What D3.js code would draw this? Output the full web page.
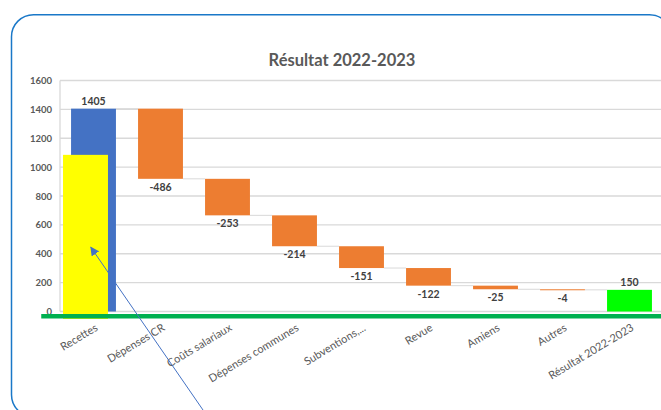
<!DOCTYPE html>
<html>
<head>
<meta charset="utf-8">
<script src="https://cdn.jsdelivr.net/npm/d3@7"></script>
<style>
  html, body { margin: 0; padding: 0; background: #fff; }
  svg { display: block; font-family: Lato, "Open Sans", sans-serif; }
</style>
</head>
<body>
<script>
// Waterfall data
const categories = ["Recettes", "Dépenses CR", "Coûts salariaux", "Dépenses communes",
  "Subventions,...", "Revue", "Amiens", "Autres", "Résultat 2022-2023"];
const values = [1405, -486, -253, -214, -151, -122, -25, -4, 150];
const isTotal = [true, false, false, false, false, false, false, false, true];
const yTicks = [0, 200, 400, 600, 800, 1000, 1200, 1400, 1600];

// annotations drawn on top of the chart (category index, value)
const yellowBox = { from: -0.455, to: 0.216, low: -52, high: 1085 };
const greenLine = { from: -0.78, to: 8.6, level: -33 };
const arrowTail = [1.686, -717];
const arrowTip = [-0.04, 445];

const width = 661, height = 410;

const svg = d3.select("body").append("svg")
  .attr("width", width)
  .attr("height", height);

// chart frame
svg.append("rect")
  .attr("x", 11.5).attr("y", 14.7)
  .attr("width", 660).attr("height", 402)
  .attr("rx", 22).attr("ry", 22)
  .attr("fill", "#fff")
  .attr("stroke", "#1a78c8")
  .attr("stroke-width", 1.5);

svg.append("text")
  .attr("x", 342).attr("y", 66)
  .attr("text-anchor", "middle")
  .attr("fill", "#595959")
  .attr("font-size", 16.5)
  .attr("font-weight", "bold")
  .text("Résultat 2022-2023");

const x = d3.scaleBand()
  .domain(categories)
  .range([60, 663])
  .paddingInner(0.33)
  .paddingOuter(0.165);

const y = d3.scaleLinear()
  .domain([0, 1600])
  .range([311.5, 80.5]);

// index -> pixel, for annotations placed between categories
const xi = d3.scaleLinear()
  .domain([0, 1])
  .range([x(categories[0]) + x.bandwidth() / 2, x(categories[1]) + x.bandwidth() / 2]);

// running totals
let running = 0;
const steps = categories.map(function (c, i) {
  let start, end;
  if (isTotal[i]) {
    start = 0; end = values[i];
    running = values[i];
  } else {
    start = running; end = running + values[i];
    running = end;
  }
  return { cat: c, value: values[i], start: start, end: end, total: isTotal[i], i: i };
});

// gridlines
svg.append("g")
  .selectAll("line")
  .data(yTicks)
  .join("line")
  .attr("x1", 60).attr("x2", 661)
  .attr("y1", d => y(d)).attr("y2", d => y(d))
  .attr("stroke", "#d9d9d9")
  .attr("stroke-width", 1.3);

svg.append("line")
  .attr("x1", 60).attr("x2", 60)
  .attr("y1", y(1600)).attr("y2", y(0))
  .attr("stroke", "#d9d9d9")
  .attr("stroke-width", 1.3);

// y axis labels
const yAxis = d3.axisLeft(y).tickValues(yTicks).tickFormat(d3.format("d"))
  .tickSize(0).tickPadding(0);
svg.append("g")
  .attr("transform", "translate(52,0)")
  .call(yAxis)
  .call(g => g.select(".domain").remove())
  .selectAll("text")
  .attr("fill", "#595959")
  .attr("font-family", "Lato, sans-serif")
  .attr("font-size", 9.5)
  .attr("font-weight", "bold");

// connectors
svg.append("g")
  .selectAll("line")
  .data(steps.slice(0, -1))
  .join("line")
  .attr("x1", d => x(d.cat) + x.bandwidth())
  .attr("x2", d => x(categories[d.i + 1]))
  .attr("y1", d => y(d.end)).attr("y2", d => y(d.end))
  .attr("stroke", "#d9d9d9")
  .attr("stroke-width", 1);

function barColor(d) {
  if (d.total && d.i === 0) return "#4472c4";
  if (d.total) return "#00ff00";
  return d.value < 0 ? "#ed7d31" : "#4472c4";
}

svg.append("g")
  .selectAll("rect")
  .data(steps)
  .join("rect")
  .attr("x", d => x(d.cat))
  .attr("width", x.bandwidth())
  .attr("y", d => y(Math.max(d.start, d.end)))
  .attr("height", d => Math.max(1, Math.abs(y(d.start) - y(d.end))))
  .attr("fill", barColor);

// value labels
svg.append("g")
  .selectAll("text")
  .data(steps)
  .join("text")
  .attr("x", d => x(d.cat) + x.bandwidth() / 2)
  .attr("y", d => d.value < 0 ? y(d.end) + 12 : y(d.end) - 4)
  .attr("text-anchor", "middle")
  .attr("fill", "#404040")
  .attr("font-size", 10.5)
  .attr("font-weight", "bold")
  .text(d => d.value);

// category labels
svg.append("g")
  .selectAll("text")
  .data(categories)
  .join("text")
  .attr("transform", d => "translate(" + (x(d) + x.bandwidth() / 2 + 1) + ",323) rotate(-31)")
  .attr("text-anchor", "end")
  .attr("dy", "0.72em")
  .attr("fill", "#595959")
  .attr("font-size", 11)
  .text(d => d);

// yellow box, green line and arrow annotations
svg.append("rect")
  .attr("x", xi(yellowBox.from))
  .attr("width", xi(yellowBox.to) - xi(yellowBox.from))
  .attr("y", y(yellowBox.high))
  .attr("height", y(yellowBox.low) - y(yellowBox.high))
  .attr("fill", "#ffff00");

svg.append("line")
  .attr("x1", xi(greenLine.from)).attr("x2", xi(greenLine.to))
  .attr("y1", y(greenLine.level)).attr("y2", y(greenLine.level))
  .attr("stroke", "#00b050")
  .attr("stroke-width", 4.5);

svg.append("defs").append("marker")
  .attr("id", "arrowhead")
  .attr("viewBox", "0 0 10 10")
  .attr("refX", 9).attr("refY", 5)
  .attr("markerWidth", 9).attr("markerHeight", 9)
  .attr("markerUnits", "userSpaceOnUse")
  .attr("orient", "auto")
  .append("path")
  .attr("d", "M0,0 L10,5 L0,10 Z")
  .attr("fill", "#4472c4");

svg.append("line")
  .attr("x1", xi(arrowTail[0])).attr("y1", y(arrowTail[1]))
  .attr("x2", xi(arrowTip[0])).attr("y2", y(arrowTip[1]))
  .attr("stroke", "#4472c4")
  .attr("stroke-width", 1)
  .attr("marker-end", "url(#arrowhead)");
</script>
</body>
</html>
